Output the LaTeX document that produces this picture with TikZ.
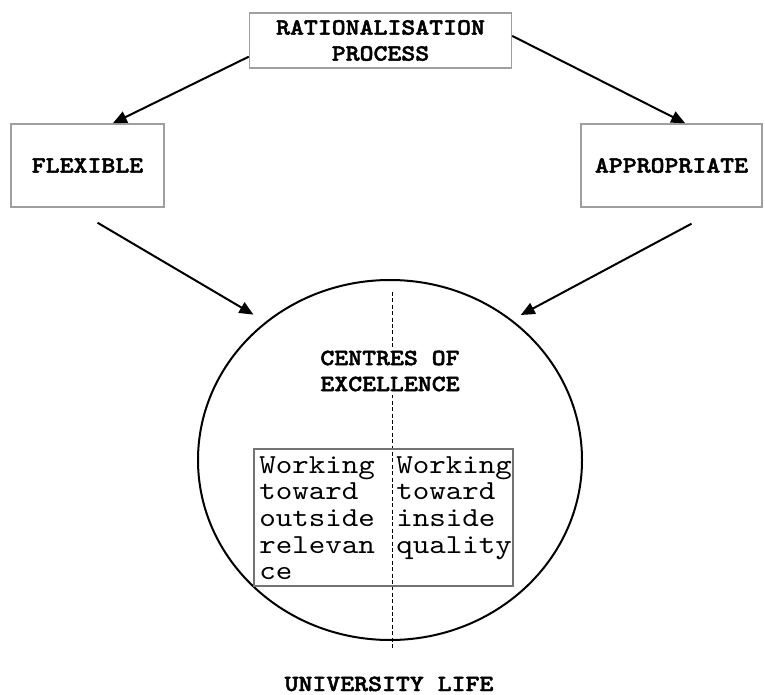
\documentclass[tikz,border=0pt]{standalone}
\usepackage{fontspec}
\newfontfamily\courfont{lmmono10-regular.otf}[FakeStretch=1.143]
\newfontfamily\courbold{lmmonolt10-bold.otf}[FakeStretch=1.143,FakeBold=2]
\usetikzlibrary{calc,shapes.geometric,arrows.meta,positioning}

\tikzset{
  labelbox/.style={draw=gray!75, line width=0.7pt, inner sep=1pt, align=center,
    font=\courbold\fontsize{11.6}{13}\selectfont},
  capstext/.style={align=center, inner sep=2pt,
    font=\courbold\fontsize{11.6}{13}\selectfont},
  coltext/.style={align=left, inner sep=0pt, anchor=north west,
    font=\courfont\fontsize{13.75}{13.3}\selectfont},
  flowarrow/.style={-{Triangle[length=7pt,width=6pt]}, line width=1pt},
  splitline/.style={dash pattern=on 2pt off 1.2pt, line width=0.5pt},
}

\begin{document}
\begin{tikzpicture}[x=0.5pt,y=-0.5pt]
  \useasboundingbox (0,0) rectangle (765,695);

  % Top box and the two choices
  \node[labelbox, minimum width=131pt, minimum height=27.5pt] (rat) at (380.5,40.5) {RATIONALISATION\\PROCESS};
  \node[labelbox, minimum width=76.5pt, minimum height=41.5pt] (flex) at (87.5,165.5) {FLEXIBLE};
  \node[labelbox, minimum width=90.5pt, minimum height=41.5pt] (appr) at (671.5,165.5) {APPROPRIATE};

  % Centres of excellence
  \node[ellipse, draw, line width=1pt, minimum width=192pt, minimum height=180pt, inner sep=0pt] (centre) at (390,460) {};
  \draw[splitline] ($(centre.north)+(2,13)$) -- ($(centre.south)+(2,7)$);
  \node[capstext, fill=white] (coe) at (390,371) {CENTRES OF\\EXCELLENCE};

  % Two columns
  \node[draw=gray!90!black, line width=0.6pt, minimum width=129.5pt, minimum height=68.5pt] (work) at (383.5,517.5) {};
  \node[coltext] (outside) at (259,456) {Working\\toward\\outside\\relevan\\ce};
  \node[coltext] (inside) at (396,456) {Working\\toward\\inside\\quality};

  \node[capstext, anchor=base] (life) at (389,691) {UNIVERSITY LIFE};

  % Arrows
  \draw[flowarrow] (rat.187) -- (flex.59);
  \draw[flowarrow] (rat.2) -- (appr.72);
  \draw[flowarrow, shorten >=7pt] ($(flex.south)+(10,15)$) -- (centre.132);
  \draw[flowarrow, shorten >=5pt] ($(appr.south)+(20,16)$) -- (centre.49);
\end{tikzpicture}
\end{document}
